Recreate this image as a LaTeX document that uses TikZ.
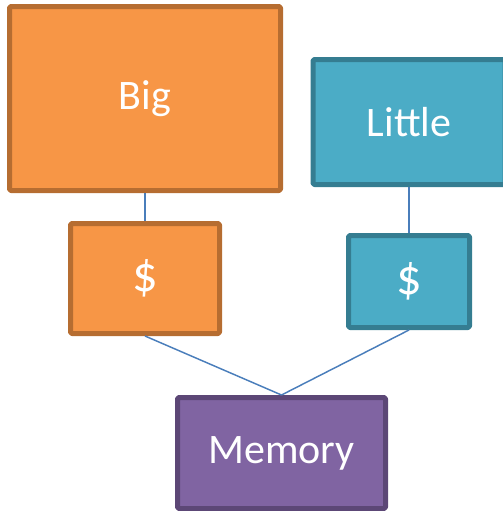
\documentclass[tikz,border=0pt]{standalone}
\usepackage{fontspec}
\setmainfont{Carlito}
\definecolor{bigfill}{HTML}{F79646}
\definecolor{bigedge}{HTML}{B66D31}
\definecolor{litfill}{HTML}{4BACC6}
\definecolor{litedge}{HTML}{357D91}
\definecolor{memfill}{HTML}{8064A2}
\definecolor{memedge}{HTML}{5C4776}
\definecolor{wire}{HTML}{4A7EBB}
\tikzset{
  unit/.style={draw, line width=3.75pt, rounded corners=1pt, text=white, font=\fontsize{31.5}{34}\selectfont, inner sep=0pt},
  big/.style={unit, fill=bigfill, draw=bigedge},
  little/.style={unit, fill=litfill, draw=litedge},
  mem/.style={unit, fill=memfill, draw=memedge},
  cash/.style={font=\fontsize{38}{40}\selectfont},
  wire/.style={draw=wire, line width=1.1pt}
}
\begin{document}
\begin{tikzpicture}[x=0.75pt,y=-0.75pt,line join=round]
  \useasboundingbox (0,0) rectangle (503,511);
  \clip (0,0) rectangle (503,511);
  % cores
  \node[big, minimum width=203.25pt, minimum height=138pt] (B) at (145,98.5) {Big};
  \node[little, minimum width=144pt, minimum height=93.75pt] (L) at (409,122) {Little};
  % caches
  \node[big, cash, minimum width=111.75pt, minimum height=82.5pt] (BC) at (145,278.5) {\$};
  \node[little, cash, minimum width=90.75pt, minimum height=69pt] (LC) at (409,281.5) {\$};
  % memory
  \node[mem, minimum width=156pt, minimum height=83.25pt] (M) at (281.5,453) {Memory};
  \draw[wire] (B.south) -- (BC.north);
  \draw[wire] (L.south) -- (LC.north);
  \draw[wire] (BC.south) -- (M.north);
  \draw[wire] (LC.south) -- (M.north);
\end{tikzpicture}
\end{document}
